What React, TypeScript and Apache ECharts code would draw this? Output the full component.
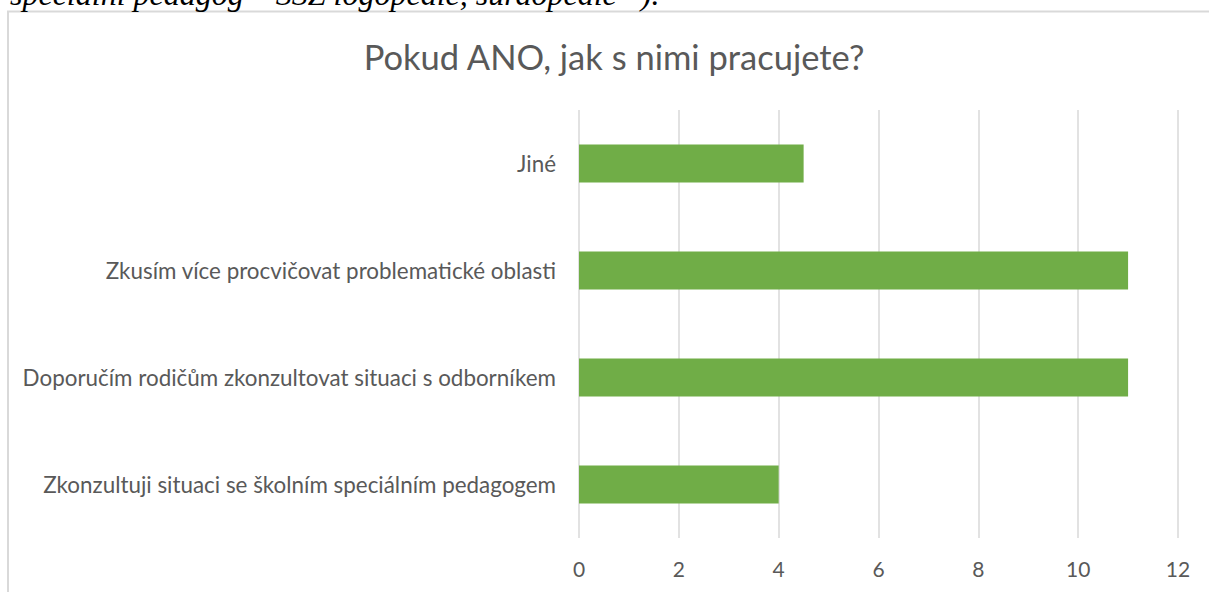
import React, { useEffect, useRef } from "react";
import * as echarts from "echarts";

const categories = [
  "Jiné",
  "Zkusím více procvičovat problematické oblasti",
  "Doporučím rodičům zkonzultovat situaci s odborníkem",
  "Zkonzultuji situaci se školním speciálním pedagogem",
];
const values = [4.5, 11, 11, 4];
const xTicks = { min: 0, max: 12, interval: 2 };
const titleText = "Pokud ANO, jak s nimi pracujete?";
const headerText = "speciální pedagog – SŠZ logopedie, surdopedie –).";

export default function App() {
  const ref = useRef<HTMLDivElement>(null);
  useEffect(() => {
    if (!ref.current) return;
    const chart = echarts.init(ref.current, null, { renderer: "svg" });
    chart.setOption({
      animation: false,
      backgroundColor: "#ffffff",
      title: {
        text: titleText,
        left: 609,
        top: 34,
        textAlign: "center",
        textStyle: {
          fontFamily: "Lato",
          fontSize: 34.5,
          fontWeight: "normal",
          color: "#595959",
        },
      },
      graphic: [
        {
          type: "rect",
          silent: true,
          shape: { x: 8, y: 11.5, width: 1300, height: 700 },
          style: { fill: "none", stroke: "#d9d9d9", lineWidth: 2 },
          z: 0,
        },
        {
          type: "text",
          silent: true,
          x: 10,
          y: 10,
          style: {
            text: headerText,
            fontFamily: "Liberation Serif",
            fontStyle: "italic",
            fontSize: 32,
            fill: "#000000",
            verticalAlign: "bottom",
          },
        },
      ],
      grid: { left: 579, right: 31, top: 110, bottom: 54 },
      xAxis: {
        type: "value",
        min: xTicks.min,
        max: xTicks.max,
        interval: xTicks.interval,
        axisLine: { show: false },
        axisTick: { show: false },
        axisLabel: {
          margin: 20,
          fontFamily: "Lato",
          fontSize: 21,
          color: "#595959",
        },
        splitLine: { show: true, lineStyle: { color: "#d9d9d9", width: 1.5 } },
      },
      yAxis: {
        type: "category",
        data: categories,
        inverse: true,
        axisLine: { show: false },
        axisTick: { show: false },
        axisLabel: {
          margin: 23,
          fontFamily: "Lato",
          fontSize: 22.4,
          color: "#595959",
        },
      },
      series: [
        {
          type: "bar",
          data: values,
          barWidth: 38,
          itemStyle: { color: "#70AD47" },
        },
      ],
    });
    return () => chart.dispose();
  }, []);
  return (
    <div
      ref={ref}
      style={{ position: "absolute", left: 0, top: 0, width: 1209, height: 592 }}
    />
  );
}
